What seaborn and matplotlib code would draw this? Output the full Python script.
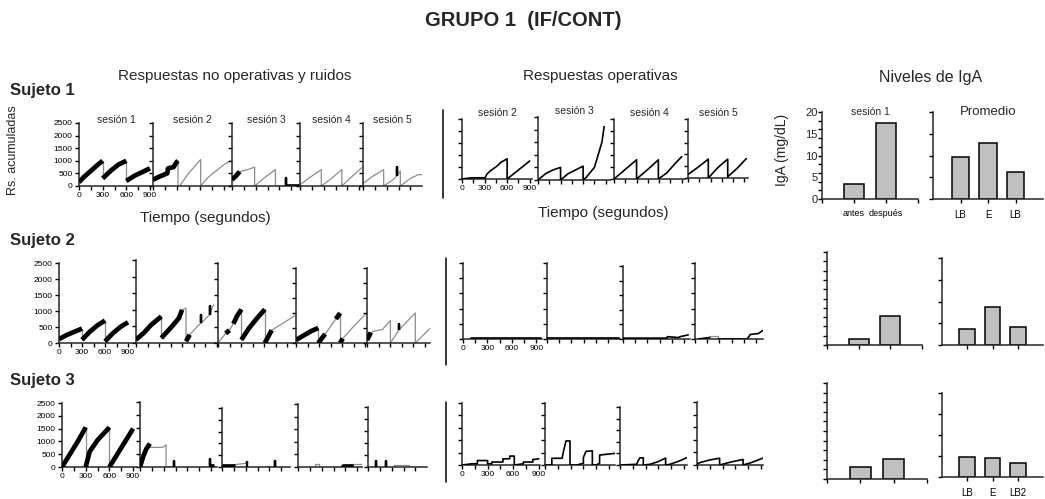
"""GRUPO 1 (IF/CONT): registros acumulados por sujeto y niveles de IgA"""

import numpy as np
import seaborn as sns
import matplotlib.pyplot as plt
from matplotlib.lines import Line2D

# ---------------------------------------------------------------- data
# each record: time points (s), cumulative responses, and one flag per
# segment: "k" = dense black responses, "s" = single black burst,
# "g" = grey trace, "n" = thin black
SESIONES_RUIDO = ["sesión 1", "sesión 2", "sesión 3", "sesión 4", "sesión 5"]
SESIONES_OPER = ["sesión 2", "sesión 3", "sesión 4", "sesión 5"]

S1_RUIDO_T = [
    [0, 60, 150, 240, 300, 300, 400, 500, 600, 600, 700, 800, 900],
    [0, 100, 180, 190, 260, 300, 317, 317, 338, 450, 604, 604, 700, 800, 900, 980],
    [0, 50, 97, 200, 287, 287, 400, 550, 550, 680, 680, 680, 862],
    [0, 130, 270, 270, 400, 530, 530, 650, 780],
    [0, 130, 262, 262, 380, 430, 430, 430, 473, 473, 600, 700, 748],
]
S1_RUIDO_Y = [
    [150, 350, 600, 850, 1000, 300, 600, 850, 1000, 200, 400, 550, 700],
    [250, 400, 500, 700, 750, 950, 1000, 0, 0, 500, 1050, 0, 350, 600, 850, 1000],
    [250, 400, 570, 650, 750, 0, 300, 650, 0, 0, 300, 30, 30],
    [50, 350, 650, 0, 300, 650, 0, 350, 720],
    [100, 400, 650, 0, 250, 400, 750, 400, 600, 0, 300, 450, 450],
]
S1_RUIDO_F = ["kkkkgkkkgkkk", "kkkkkkggggggggg", "kkgggggggssn", "gggggggg", "gggggssggggg"]

S2_RUIDO_T = [
    [0, 100, 200, 300, 300, 400, 500, 600, 600, 700, 800, 900],
    [0, 100, 200, 330, 330, 450, 560, 600, 652, 652, 700, 800, 850, 850, 850, 960, 960, 960, 1010],
    [0, 100, 150, 200, 250, 305, 305, 400, 500, 610, 610, 700, 800, 900, 1000],
    [0, 100, 200, 290, 290, 380, 520, 575, 575, 610, 750, 920],
    [0, 50, 100, 200, 305, 305, 420, 420, 420, 630, 630, 826],
]
S2_RUIDO_Y = [
    [120, 250, 350, 450, 100, 350, 550, 700, 50, 300, 500, 650],
    [100, 300, 550, 800, 150, 450, 750, 1000, 1050, 50, 250, 500, 600, 850, 600, 850, 1100, 850, 1150],
    [0, 300, 400, 600, 850, 1050, 100, 450, 750, 1050, 0, 400, 550, 700, 850],
    [100, 250, 400, 500, 0, 300, 800, 1000, 0, 150, 550, 1000],
    [100, 350, 400, 450, 750, 0, 450, 650, 450, 1000, 0, 500],
]
S2_RUIDO_F = ["kkkgkkkgkkk", "kkkgkkkggkggssgssg", "gkgkkgkkkgkggg", "kkkgkgkgkgg", "kgggggssggg"]

S3_RUIDO_T = [
    [0, 100, 200, 300, 300, 350, 450, 600, 600, 700, 800, 900],
    [0, 40, 80, 125, 125, 290, 330, 330, 425, 425, 425, 885, 885, 885, 940],
    [0, 160, 160, 290, 312, 312, 312, 560, 560, 600, 600, 667, 667, 667, 860],
    [0, 210, 210, 270, 270, 570, 570, 700, 700, 810],
    [0, 96, 96, 96, 230, 230, 230, 333, 333, 520, 520, 747],
]
S3_RUIDO_Y = [
    [0, 500, 1000, 1550, 0, 600, 1050, 1550, 0, 500, 1000, 1500],
    [0, 400, 700, 900, 750, 760, 850, 0, 0, 250, 0, 0, 300, 50, 50],
    [50, 50, 100, 150, 150, 220, 0, 0, 50, 50, 0, 0, 250, 0, 0],
    [0, 0, 100, 100, 0, 0, 50, 50, 100, 100],
    [0, 0, 250, 0, 0, 250, 0, 0, 100, 100, 0, 0],
]
S3_RUIDO_F = ["kkkgkkkgkkk", "kkkgggggssgssk", "kgggssgggggssg", "gggggkkgg", "gssgssggggg"]

S1_OPER_T = [
    [0, 130, 300, 300, 330, 380, 450, 520, 600, 600, 700, 800, 900],
    [0, 100, 200, 300, 300, 400, 500, 600, 600, 640, 750, 800, 850, 880],
    [0, 150, 300, 300, 450, 590, 590, 700, 800, 900],
    [0, 130, 270, 270, 400, 528, 528, 650, 775],
]
S1_OPER_Y = [
    [0, 5, 5, 0, 20, 35, 50, 70, 84, 0, 25, 50, 75],
    [0, 25, 40, 50, 0, 25, 40, 55, 0, 10, 50, 100, 150, 212],
    [0, 40, 80, 0, 40, 80, 0, 25, 60, 93],
    [15, 45, 80, 0, 45, 80, 5, 40, 82],
]
S1_OPER_F = ["n" * 12, "n" * 13, "n" * 9, "n" * 8]

S2_OPER_T = [
    [100, 960],
    [0, 880],
    [0, 540, 545, 680, 700, 800],
    [40, 180, 180, 280, 280, 340, 640, 680, 780, 830],
]
S2_OPER_Y = [
    [3, 3],
    [3, 3],
    [3, 3, 8, 5, 8, 14],
    [0, 5, 10, 10, 0, 0, 0, 15, 18, 28],
]
S2_OPER_F = ["n", "n", "nnnnn", "ngggnnnnn"]

S3_OPER_T = [
    [0, 117, 180, 180, 300, 300, 350, 350, 480, 480, 560, 560, 613, 613, 720, 720, 830, 830, 900],
    [0, 80, 80, 200, 220, 246, 293, 293, 371, 450, 450, 480, 555, 555, 600, 640, 640, 820],
    [0, 195, 215, 234, 273, 273, 350, 450, 535, 535, 586, 700, 780],
    [0, 60, 150, 265, 265, 400, 540, 540, 640, 770],
]
S3_OPER_Y = [
    [0, 5, 5, 18, 18, 5, 5, 12, 12, 25, 25, 36, 36, 0, 5, 12, 12, 22, 25],
    [0, 0, 27, 27, 60, 97, 97, 0, 0, 7, 30, 55, 57, 0, 0, 7, 40, 47],
    [0, 3, 20, 31, 31, 0, 3, 15, 30, 0, 3, 18, 31],
    [5, 12, 20, 27, 0, 12, 22, 0, 10, 27],
]
S3_OPER_F = ["n" * 18, "n" * 17, "n" * 12, "n" * 9]

# IgA (mg/dL)
IGA_SESION1_LABELS = ["antes", "después"]
IGA_PROMEDIO_LABELS = ["LB", "E", "LB"]
IGA_PROMEDIO_LABELS_S3 = ["LB", "E", "LB2"]
S1_IGA_SESION1 = [3.4, 17.5]
S1_IGA_PROMEDIO = [9.7, 12.9, 6.2]
S2_IGA_SESION1 = [1.3, 6.2]
S2_IGA_PROMEDIO = [3.7, 8.7, 4.1]
S3_IGA_SESION1 = [2.5, 4.2]
S3_IGA_PROMEDIO = [4.8, 4.5, 3.3]

# ---------------------------------------------------------------- layout (pixels)
W, H = 1045, 499
ROW_LEFT = [
    [(79, 123, 153, 186), (153, 123, 232, 186), (232, 123, 300, 186), (300, 123, 363, 186), (363, 123, 422, 186)],
    [(59, 263, 135, 343), (136, 260, 218, 343), (218, 263, 296, 343), (296, 268, 367, 343), (367, 268, 430, 343)],
    [(62, 403, 137, 467), (140, 402, 217, 467), (222, 408, 290, 467), (298, 404, 362, 467), (368, 407, 427, 467)],
]
LEFT_PX_PER_S = [0.0789, 0.0767, 0.079]
ROW_MID = [
    [(462, 119, 532, 179), (538, 117, 610, 180), (614, 119, 685, 179), (688, 119, 748, 178)],
    [(463, 263, 542, 339), (547, 263, 620, 339), (623, 266, 690, 339), (695, 263, 763, 339)],
    [(462, 403, 540, 465), (545, 403, 615, 465), (620, 407, 687, 465), (697, 402, 763, 465)],
]
MID_PX_PER_S = [0.0752, 0.0815, 0.0853]
ROW_BAR = [
    [(822, 112, 918, 199), (933, 112, 1043, 199)],
    [(827, 252, 922, 345), (942, 258, 1043, 345)],
    [(827, 383, 927, 479), (942, 393, 1043, 477)],
]
SEPARATORS = [(443, 110, 198), (446, 258, 365), (446, 402, 482)]

STYLE = {
    "k": dict(color="black", linewidth=3.4, zorder=3, solid_capstyle="butt"),
    "s": dict(color="black", linewidth=1.7, zorder=3, solid_capstyle="butt"),
    "g": dict(color="#8c8c8c", linewidth=0.9, zorder=2),
    "n": dict(color="black", linewidth=1.2, zorder=3),
}

sns.set_style("ticks")
plt.rcParams["font.family"] = ["Liberation Sans", "DejaVu Sans"]
plt.rcParams["axes.linewidth"] = 1.1

fig = plt.figure(figsize=(W / 100, H / 100), dpi=100)
fig.patch.set_facecolor("white")


def add_ax(px):
    x0, y0, x1, y1 = px
    ax = fig.add_axes([x0 / W, 1 - y1 / H, (x1 - x0) / W, (y1 - y0) / H])
    ax.set_facecolor("none")
    sns.despine(ax=ax)
    ax.tick_params(direction="out", length=3, width=1, labelsize=6, pad=1.5, colors="black")
    return ax


def draw_record(ax, t, y, flags):
    """draw a cumulative record, one run of equal flags at a time"""
    start = 0
    for i in range(1, len(flags) + 1):
        if i == len(flags) or flags[i] != flags[start]:
            sns.lineplot(x=t[start:i + 1], y=y[start:i + 1], sort=False, estimator=None,
                         legend=False, ax=ax, **STYLE[flags[start]])
            start = i


def record_panels(boxes, px_per_s, ts, ys, fs, ymax, ystep, first_labels, titles=None, title_y=1.05):
    for j, (px, t, y, f) in enumerate(zip(boxes, ts, ys, fs)):
        ax = add_ax(px)
        draw_record(ax, t, y, f)
        xmax = (px[2] - px[0]) / px_per_s
        ax.set_xlim(0, xmax)
        ax.set_ylim(0, ymax)
        xt = np.arange(0, xmax, 150)
        yt = np.arange(0, ymax + 1, ystep)
        ax.set_xticks(xt)
        ax.set_yticks(yt)
        if j == 0:
            ax.set_xticklabels([f"{v:.0f}" if v % 300 == 0 and v <= 900 else "" for v in xt])
            ax.set_yticklabels([f"{v:.0f}" for v in yt] if first_labels else [])
        else:
            ax.set_xticklabels([])
            ax.set_yticklabels([])
        ax.set_xlabel("")
        ax.set_ylabel("")
        if titles:
            ax.text(0.5, title_y, titles[j], transform=ax.transAxes, ha="center",
                    va="center", fontsize=7.5)


def bar_panels(boxes, ses_vals, prom_vals, ses_labels=None, prom_labels=None, ytick_labels=False,
               titles=False):
    ax = add_ax(boxes[0])
    sns.barplot(x=np.arange(len(ses_vals)), y=ses_vals, native_scale=True, width=0.64,
                color="#c0c0c0", saturation=1, edgecolor="black", linewidth=1.1,
                errorbar=None, ax=ax)
    ax.set_xlim(-1, len(ses_vals))
    ax.set_ylim(0, 20)
    ax.set_xticks(np.arange(-1, len(ses_vals) + 1))
    ax.set_xticklabels([""] + (ses_labels or [""] * len(ses_vals)) + [""])
    ax.set_yticks(np.arange(0, 21, 2))
    ax.set_yticklabels([])
    if ytick_labels:
        # labels every 5 mg/dL, ticks every 2
        ax.yaxis.remove_overlapping_locs = False
        ax.set_yticks(np.arange(0, 21, 5), labels=[str(v) for v in range(0, 21, 5)], minor=True)
        ax.tick_params(axis="y", which="minor", length=0, labelsize=8, pad=3)
    ax.tick_params(axis="x", labelsize=6.5, pad=4)
    ax.set_xlabel("")
    ax.set_ylabel("")
    if titles:
        ax.text(0.5, 1.0, "sesión 1", transform=ax.transAxes, ha="center", va="center",
                fontsize=7.5)

    ax = add_ax(boxes[1])
    sns.barplot(x=np.arange(len(prom_vals)), y=prom_vals, native_scale=True, width=0.62,
                color="#c0c0c0", saturation=1, edgecolor="black", linewidth=1.1,
                errorbar=None, ax=ax)
    ax.set_xlim(-1, len(prom_vals))
    ax.set_ylim(0, 20)
    ax.set_xticks(np.arange(len(prom_vals)))
    ax.set_xticklabels(prom_labels or [""] * len(prom_vals))
    ax.set_yticks(np.arange(0, 21, 5))
    ax.set_yticklabels([])
    ax.tick_params(axis="x", labelsize=7, pad=5)
    ax.set_xlabel("")
    ax.set_ylabel("")
    if titles:
        ax.text(0.5, 1.0, "Promedio", transform=ax.transAxes, ha="center", va="center",
                fontsize=9.5)


ruido = [(S1_RUIDO_T, S1_RUIDO_Y, S1_RUIDO_F), (S2_RUIDO_T, S2_RUIDO_Y, S2_RUIDO_F),
         (S3_RUIDO_T, S3_RUIDO_Y, S3_RUIDO_F)]
oper = [(S1_OPER_T, S1_OPER_Y, S1_OPER_F), (S2_OPER_T, S2_OPER_Y, S2_OPER_F),
        (S3_OPER_T, S3_OPER_Y, S3_OPER_F)]
iga = [(S1_IGA_SESION1, S1_IGA_PROMEDIO), (S2_IGA_SESION1, S2_IGA_PROMEDIO),
       (S3_IGA_SESION1, S3_IGA_PROMEDIO)]

for r in range(3):
    record_panels(ROW_LEFT[r], LEFT_PX_PER_S[r], *ruido[r], ymax=2500, ystep=500,
                  first_labels=True, titles=SESIONES_RUIDO if r == 0 else None, title_y=1.05)
    record_panels(ROW_MID[r], MID_PX_PER_S[r], *oper[r], ymax=250, ystep=50,
                  first_labels=False, titles=SESIONES_OPER if r == 0 else None, title_y=1.1)

bar_panels(ROW_BAR[0], *iga[0], ses_labels=IGA_SESION1_LABELS, prom_labels=IGA_PROMEDIO_LABELS,
           ytick_labels=True, titles=True)
bar_panels(ROW_BAR[1], *iga[1])
bar_panels(ROW_BAR[2], *iga[2], prom_labels=IGA_PROMEDIO_LABELS_S3)

for x, y0, y1 in SEPARATORS:
    fig.add_artist(Line2D([x / W, x / W], [1 - y0 / H, 1 - y1 / H], color="black", linewidth=1.1))


def fig_text(x, y, s, **kw):
    fig.text(x / W, 1 - y / H, s, **kw)


fig_text(523, 20, "GRUPO 1  (IF/CONT)", ha="center", va="center", fontsize=14.5, fontweight="bold")
for k, y in enumerate([91, 240, 381]):
    fig_text(10, y, f"Sujeto {k + 1}", ha="left", va="center", fontsize=12, fontweight="bold")
fig_text(235, 76, "Respuestas no operativas y ruidos", ha="center", va="center", fontsize=11)
fig_text(600, 76, "Respuestas operativas", ha="center", va="center", fontsize=11)
fig_text(931, 78, "Niveles de IgA", ha="center", va="center", fontsize=11.5)
fig_text(13, 150, "Rs. acumuladas", ha="center", va="center", rotation=90, fontsize=9)
fig_text(782, 150, "IgA (mg/dL)", ha="center", va="center", rotation=90, fontsize=10)
fig_text(205, 218, "Tiempo (segundos)", ha="center", va="center", fontsize=11)
fig_text(603, 213, "Tiempo (segundos)", ha="center", va="center", fontsize=11)

fig.savefig("out.png", dpi=100)
